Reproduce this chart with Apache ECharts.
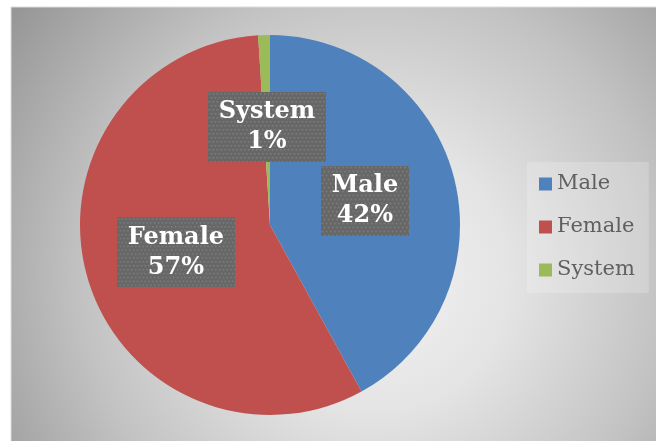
<!DOCTYPE html>
<html>
<head>
<meta charset="utf-8">
<script src="https://cdn.jsdelivr.net/npm/echarts@6/dist/echarts.min.js"></script>
<style>
  html, body { margin: 0; padding: 0; background: #ffffff; }
  #chart { width: 656px; height: 441px; }
</style>
</head>
<body>
<div id="chart"></div>
<script>
// Share of respondents by gender
const categories = ['Male', 'Female', 'System'];
const shares = [42, 57, 1];
const colors = ['#4f81bd', '#c0504d', '#9bbb59'];

// Dotted grey texture used behind the slice labels
function dottedTile(w, h) {
  const c = document.createElement('canvas');
  c.width = w; c.height = h;
  const g = c.getContext('2d');
  g.fillStyle = '#676767';
  g.fillRect(0, 0, w, h);
  g.fillStyle = '#828282';
  for (let y = 1; y < h; y += 4) {
    for (let x = 1 + ((y >> 2) % 2) * 2; x < w; x += 4) {
      g.fillRect(x, y, 1.5, 1.5);
    }
  }
  return c;
}
const tileSizes = [[86, 70], [124, 72], [120, 70]];

const chart = echarts.init(document.getElementById('chart'), null, { renderer: 'canvas' });

const pieData = categories.map((name, i) => ({
  name: name,
  value: shares[i],
  itemStyle: { color: colors[i] },
  label: {
    backgroundColor: { image: dottedTile(tileSizes[i][0], tileSizes[i][1]) }
  }
}));

chart.setOption({
  backgroundColor: '#ffffff',
  animation: false,
  graphic: [
    {
      type: 'rect',
      z: -10,
      silent: true,
      shape: { x: 11, y: 7, width: 660, height: 450 },
      style: {
        fill: {
          type: 'radial',
          x: 0.55, y: 0.6, r: 1.0,
          colorStops: [
            { offset: 0, color: '#f3f3f3' },
            { offset: 0.3, color: '#e4e4e4' },
            { offset: 0.65, color: '#c2c2c2' },
            { offset: 1, color: '#959595' }
          ]
        },
        stroke: '#dcdcdc',
        lineWidth: 1
      }
    }
  ],
  legend: {
    orient: 'vertical',
    left: 527,
    top: 162,
    padding: [11, 14, 12, 12],
    backgroundColor: 'rgba(255,255,255,0.2)',
    itemWidth: 13,
    itemHeight: 13,
    itemGap: 21,
    icon: 'rect',
    data: categories,
    textStyle: {
      fontFamily: 'DejaVu Serif',
      fontSize: 21,
      lineHeight: 22,
      color: '#606060'
    }
  },
  series: [
    {
      type: 'pie',
      center: [270, 225],
      radius: 190,
      startAngle: 90,
      clockwise: true,
      data: pieData,
      labelLine: { show: false },
      itemStyle: { borderWidth: 0 },
      label: {
        show: true,
        position: 'inside',
        formatter: p => p.name + '\n' + Math.round(p.percent) + '%',
        fontFamily: 'DejaVu Serif',
        fontWeight: 'bold',
        fontSize: 24,
        lineHeight: 30,
        color: '#ffffff',
        padding: [5, 11, 5, 11],
        shadowColor: 'rgba(0,0,0,0.45)',
        shadowBlur: 4,
        shadowOffsetX: 3,
        shadowOffsetY: 3
      },
      emphasis: { disabled: true }
    }
  ]
});
</script>
</body>
</html>
